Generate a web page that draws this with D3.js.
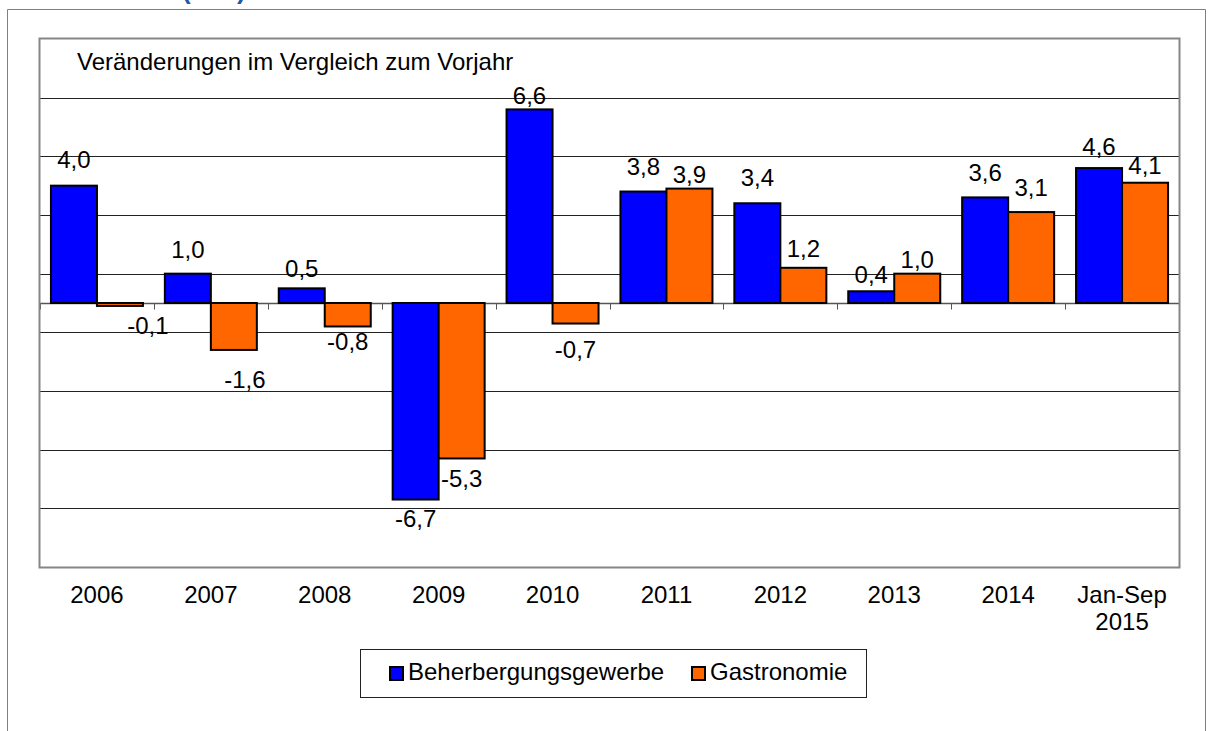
<!DOCTYPE html>
<html>
<head>
<meta charset="utf-8">
<script src="https://cdn.jsdelivr.net/npm/d3@7"></script>
<style>
  html, body { margin: 0; padding: 0; background: #fff; }
  svg { display: block; }
</style>
</head>
<body>
<div id="chart"></div>
<script>
// Umsatz Gastgewerbe — Veränderung zum Vorjahr, zwei Reihen als gruppierte Säulen.

const categories = ['2006', '2007', '2008', '2009', '2010', '2011', '2012', '2013', '2014', 'Jan-Sep\n2015'];
const seriesNames = ['Beherbergungsgewerbe', 'Gastronomie'];
const beherbergung = [4.0, 1.0, 0.5, -6.7, 6.6, 3.8, 3.4, 0.4, 3.6, 4.6];
const gastronomie = [-0.1, -1.6, -0.8, -5.3, -0.7, 3.9, 1.2, 1.0, 3.1, 4.1];
const yDomain = [-9, 9];
const gridValues = [-7, -5, -3, -1, 1, 3, 5, 7];

// label placement (Excel hat die Beschriftungen teils verschoben)
const LABEL_GAP = [
  [18, 16, 11, 27, 5, 17, 17, 8, 16, 13],
  [28, 38, 24, 29, 34, 6, 11, 6, 16, 9]
];
const LABEL_DX = [
  [0, 0, 0, 0, 0, 0, 0, 0, 0, 0],
  [28, 11, 0, 0, 0, 0, 0, 0, 0, 0]
];

const COLORS = ['#0000ff', '#ff6600'];
const FONT = 'Liberation Sans, Arial, sans-serif';
const FS = 24;

const W = 1208, H = 731;
const plot = { left: 40, right: 1179, top: 39, bottom: 567 };

const svg = d3.select('#chart').append('svg')
  .attr('width', W).attr('height', H)
  .attr('viewBox', `0 0 ${W} ${H}`);

// partial title, cut off at the top edge
svg.append('text')
  .attr('x', 182).attr('y', -1)
  .attr('font-family', FONT)
  .attr('font-weight', 'bold')
  .attr('font-size', 26)
  .attr('fill', '#1f5aa6')
  .text('(real)');

// outer frame (bottom runs off the page)
svg.append('path')
  .attr('d', `M7.5,${H + 2}V9.5H1205.5V${H + 2}`)
  .attr('fill', 'none')
  .attr('stroke', '#7f7f7f')
  .attr('stroke-width', 1);

const x0 = d3.scaleBand().domain(categories).range([plot.left, plot.right]).padding(0);
const x1 = d3.scaleBand().domain(seriesNames).range([0, x0.bandwidth()])
  .paddingInner(0).paddingOuter(0.238);
const y = d3.scaleLinear().domain(yDomain).range([plot.bottom, plot.top]);

const loc = d3.formatLocale({ decimal: ',', thousands: '.', grouping: [3], currency: ['', ' €'], minus: '-' });
const fmt = loc.format('.1f');

// gridlines
svg.append('g')
  .selectAll('line')
  .data(gridValues)
  .join('line')
  .attr('x1', plot.left).attr('x2', plot.right)
  .attr('y1', d => Math.round(y(d)) + 0.5).attr('y2', d => Math.round(y(d)) + 0.5)
  .attr('stroke', '#222')
  .attr('stroke-width', 1);

// zero axis with ticks at category boundaries
const zeroY = Math.round(y(0)) + 0.5;
const bounds = categories.map(c => x0(c)).concat([plot.right]);
svg.append('line')
  .attr('x1', plot.left).attr('x2', plot.right)
  .attr('y1', zeroY).attr('y2', zeroY)
  .attr('stroke', '#555')
  .attr('stroke-width', 1.3);
svg.append('g')
  .selectAll('line')
  .data(bounds)
  .join('line')
  .attr('x1', d => Math.round(d) + 0.5).attr('x2', d => Math.round(d) + 0.5)
  .attr('y1', zeroY).attr('y2', zeroY + 6)
  .attr('stroke', '#555')
  .attr('stroke-width', 1);

// bars
const rows = categories.map((c, i) => ({
  cat: c,
  vals: [beherbergung[i], gastronomie[i]],
  i
}));

const groups = svg.append('g')
  .selectAll('g')
  .data(rows)
  .join('g')
  .attr('transform', d => `translate(${x0(d.cat)},0)`);

groups.selectAll('rect')
  .data(d => d.vals.map((v, s) => ({ v, s, i: d.i })))
  .join('rect')
  .attr('x', d => x1(seriesNames[d.s]))
  .attr('width', x1.bandwidth())
  .attr('y', d => y(Math.max(0, d.v)))
  .attr('height', d => Math.abs(y(d.v) - y(0)))
  .attr('fill', d => COLORS[d.s])
  .attr('stroke', '#000')
  .attr('stroke-width', 2);

// value labels
groups.selectAll('text')
  .data(d => d.vals.map((v, s) => ({ v, s, i: d.i })))
  .join('text')
  .attr('x', d => x1(seriesNames[d.s]) + x1.bandwidth() / 2 + LABEL_DX[d.s][d.i])
  .attr('y', d => d.v >= 0 ? y(d.v) - LABEL_GAP[d.s][d.i] : y(d.v) + LABEL_GAP[d.s][d.i])
  .attr('text-anchor', 'middle')
  .attr('font-family', FONT)
  .attr('font-size', FS)
  .attr('fill', '#000')
  .text(d => fmt(d.v));

// plot area border
svg.append('rect')
  .attr('x', plot.left - 0.5).attr('y', plot.top - 0.5)
  .attr('width', plot.right - plot.left + 1).attr('height', plot.bottom - plot.top + 1)
  .attr('fill', 'none')
  .attr('stroke', '#868686')
  .attr('stroke-width', 2);

// subtitle inside plot
svg.append('text')
  .attr('x', 77).attr('y', 70)
  .attr('font-family', FONT)
  .attr('font-size', FS)
  .attr('fill', '#000')
  .text('Veränderungen im Vergleich zum Vorjahr');

// category labels
svg.append('g')
  .selectAll('text')
  .data(categories)
  .join('text')
  .attr('x', d => x0(d) + x0.bandwidth() / 2)
  .attr('y', 603)
  .attr('text-anchor', 'middle')
  .attr('font-family', FONT)
  .attr('font-size', FS)
  .attr('fill', '#000')
  .selectAll('tspan')
  .data(d => d.split('\n'))
  .join('tspan')
  .attr('x', function () { return d3.select(this.parentNode).attr('x'); })
  .attr('dy', (d, i) => i === 0 ? 0 : 27)
  .text(d => d);

// legend
const legend = svg.append('g');
legend.append('rect')
  .attr('x', 360.5).attr('y', 649.5)
  .attr('width', 506).attr('height', 48)
  .attr('fill', '#fff')
  .attr('stroke', '#222')
  .attr('stroke-width', 1);
const legendX = [390, 692];
seriesNames.forEach((name, s) => {
  legend.append('rect')
    .attr('x', legendX[s]).attr('y', 667)
    .attr('width', 13).attr('height', 13)
    .attr('fill', COLORS[s])
    .attr('stroke', '#000')
    .attr('stroke-width', 2);
  legend.append('text')
    .attr('x', legendX[s] + 18).attr('y', 680)
    .attr('font-family', FONT)
    .attr('font-size', FS)
    .attr('fill', '#000')
    .text(name);
});
</script>
</body>
</html>
